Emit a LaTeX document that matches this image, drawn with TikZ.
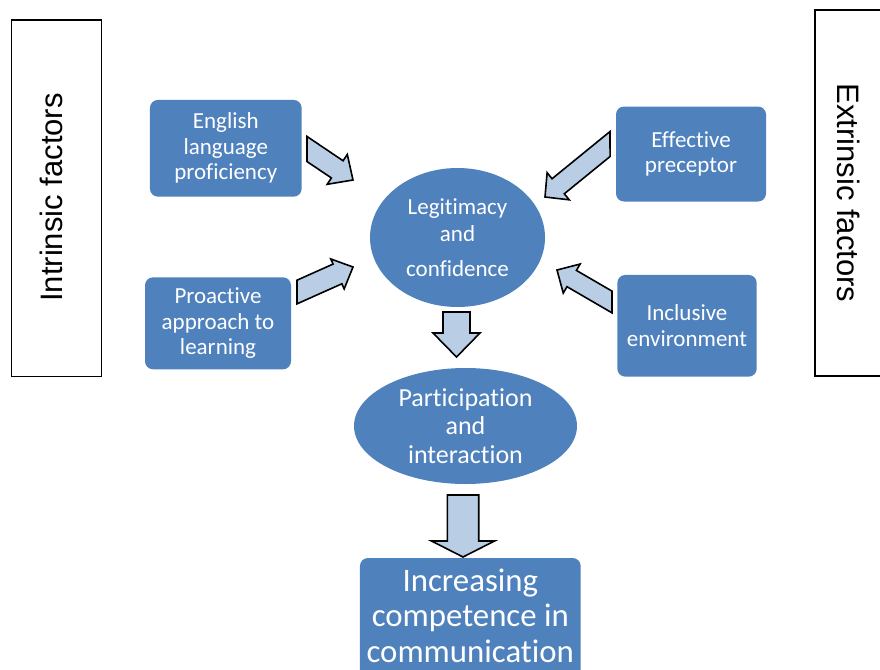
\documentclass[tikz,border=0pt]{standalone}
\usepackage{fontspec}
\setmainfont{Carlito}[Ligatures={NoCommon,NoContextual}]
\newfontfamily\arialfont{Liberation Sans}
\usetikzlibrary{calc,shapes.geometric}
\definecolor{boxblue}{HTML}{4F81BD}
\definecolor{arrowfill}{HTML}{B9CDE5}
\tikzset{
  fbox/.style={draw=none, fill=boxblue, rounded corners=8pt, text=white, align=center,
    inner sep=0pt, font=\fontsize{23}{25.5}\selectfont},
  fell/.style={ellipse, fill=boxblue, text=white, align=center, inner sep=0pt},
  sidebox/.style={draw=black, line width=1.2pt, fill=white, inner sep=0pt},
  sidelabel/.style={font=\arialfont\fontsize{31}{36}\selectfont, inner sep=0pt},
  blockarr/.style={draw=black, fill=arrowfill, line width=1.6pt, line join=miter},
}
% diagonal block arrow, tail cut vertically: #1 tail, #2 tip, #3 shaft half, #4 head half, #5 head length
\newcommand\diagarrow[5]{%
  \coordinate (bh) at ($(#2)!#5!(#1)$);
  \coordinate (sa) at ($(bh)!#3!-90:(#1)$);
  \coordinate (sb) at ($(bh)!#3!90:(#1)$);
  \coordinate (ka) at ($(#1)!#3!90:(#2)$);
  \coordinate (kb) at ($(#1)!#3!-90:(#2)$);
  \coordinate (tv) at ($(#1)+(0,10)$);
  \draw[blockarr] (intersection of ka--sa and #1--tv) -- (sa) -- ($(bh)!#4!-90:(#1)$)
    -- (#2) -- ($(bh)!#4!90:(#1)$) -- (sb) -- (intersection of kb--sb and #1--tv) -- cycle;
}
% straight block arrow, tail cut perpendicular
\newcommand\straightarrow[5]{%
  \coordinate (bh) at ($(#2)!#5!(#1)$);
  \draw[blockarr] ($(#1)!#3!90:(#2)$) -- ($(bh)!#3!-90:(#1)$) -- ($(bh)!#4!-90:(#1)$)
    -- (#2) -- ($(bh)!#4!90:(#1)$) -- ($(bh)!#3!90:(#1)$) -- ($(#1)!#3!-90:(#2)$) -- cycle;
}
\begin{document}
\begin{tikzpicture}[x=1pt,y=-1pt]
\useasboundingbox (0,0) rectangle (880,669);
\clip (0,0) rectangle (880,669);

% side boxes
\node[sidebox, minimum width=90.5, minimum height=356.5] (intr) at (56.5,198.3) {};
\node[sidelabel, rotate=90] (intrl) at (51,197.5) {Intrinsic factors};
\node[sidebox, minimum width=80, minimum height=366] (extr) at (855,193) {};
\node[sidelabel, rotate=-90] (extrl) at (849,193) {Extrinsic factors};

% factor boxes
\node[fbox, minimum width=151.7, minimum height=96.7] (eng) at (225.8,148.3)
  {English\\language\\proficiency};
\node[fbox, minimum width=150, minimum height=95] (eff) at (691,154)
  {Effective\\preceptor};
\node[fbox, minimum width=146, minimum height=92] (pro) at (218,323.3)
  {Proactive\\approach to\\learning};
\node[fbox, minimum width=139.4, minimum height=101.7] (inc) at (687,325.8)
  {Inclusive\\environment};

% ellipses
\node[fell, minimum width=175, minimum height=139, font=\fontsize{23}{27}\selectfont]
  (legit) at (457.5,237.5) {Legitimacy\\and\\[8pt]confidence};
\node[fell, minimum width=223, minimum height=116, font=\fontsize{26}{28.5}\selectfont]
  (part) at (465.5,426) {Participation\\and\\interaction};

% outcome box (cut by the lower edge)
\node[fbox, font=\fontsize{32.8}{35.5}\selectfont, minimum width=220.7, minimum height=134,
  text depth=19pt] (comp) at (470.3,625) {Increasing\\competence in\\communication};

% arrow end points
\coordinate (engT) at (307,149);  \coordinate (engH) at (353,180);
\coordinate (proT) at (297,292);  \coordinate (proH) at (353,267);
\coordinate (effT) at (610,144);  \coordinate (effH) at (545,197);
\coordinate (incT) at (612,302);  \coordinate (incH) at (557,270);
\coordinate (d1T) at (456.5,312); \coordinate (d1H) at (456.5,357);
\coordinate (d2T) at (463,495);   \coordinate (d2H) at (463,557);

\diagarrow{engT}{engH}{10.4pt}{18pt}{19pt}
\diagarrow{proT}{proH}{10.8pt}{16.4pt}{17pt}
\diagarrow{effT}{effH}{9.7pt}{17.5pt}{17pt}
\diagarrow{incT}{incH}{9.4pt}{16.8pt}{17pt}
\straightarrow{d1T}{d1H}{13.5pt}{23.5pt}{24pt}
\straightarrow{d2T}{d2H}{15.7pt}{31.5pt}{16pt}
\end{tikzpicture}
\end{document}
